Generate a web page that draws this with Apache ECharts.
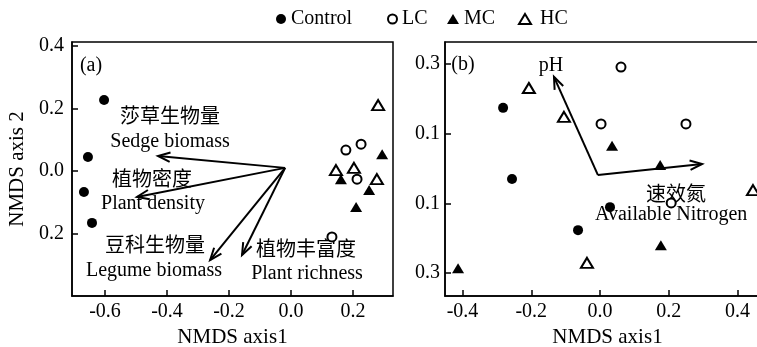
<!DOCTYPE html>
<html><head><meta charset="utf-8">
<script src="https://cdn.jsdelivr.net/npm/echarts@6/dist/echarts.min.js"></script>
<style>html,body{margin:0;padding:0;background:#fff}#c{width:757px;height:347px}</style>
</head><body><div id="c"></div>
<script>
// ---------- data ----------
const groups = ['Control', 'LC', 'MC', 'HC'];

// panel (a)
const aControl = [[-0.603, 0.227], [-0.655, 0.045], [-0.668, -0.067], [-0.642, -0.166]];
const aLC = [[0.177, 0.067], [0.226, 0.086], [0.213, -0.026], [0.132, -0.211]];
const aMC = [[0.294, 0.054], [0.161, -0.026], [0.252, -0.061], [0.210, -0.115]];
const aHC = [[0.281, 0.211], [0.145, 0.003], [0.203, 0.010], [0.277, -0.026]];
const aVectors = [[-0.019, 0.010, -0.429, 0.048], [-0.019, 0.010, -0.497, -0.083],
                  [-0.019, 0.010, -0.261, -0.285], [-0.019, 0.010, -0.158, -0.269]];
const aVectorZh = ['莎草生物量', '植物密度', '豆科生物量', '植物丰富度'];
const aVectorEn = ['Sedge biomass', 'Plant density', 'Legume biomass', 'Plant richness'];
const aXTicks = [-0.6, -0.4, -0.2, 0.0, 0.2];
const aXTickLabels = ['-0.6', '-0.4', '-0.2', '0.0', '0.2'];
const aYTicks = [0.4, 0.2, 0.0, -0.2];
const aYTickLabels = ['0.4', '0.2', '0.0', '0.2'];

// panel (b)
const bControl = [[-0.282, 0.174], [-0.256, -0.030], [0.029, -0.111], [-0.064, -0.177]];
const bLC = [[0.061, 0.291], [0.003, 0.128], [0.250, 0.128], [0.207, -0.099]];
const bMC = [[0.035, 0.065], [0.175, 0.010], [0.177, -0.220], [-0.413, -0.286]];
const bHC = [[-0.207, 0.231], [-0.105, 0.148], [-0.038, -0.271], [0.445, -0.062]];
const bVectors = [[-0.006, -0.019, -0.134, 0.263], [-0.006, -0.019, 0.297, 0.013]];
const bVectorZh = ['', '速效氮'];
const bVectorEn = ['pH', 'Available Nitrogen'];
const bXTicks = [-0.4, -0.2, 0.0, 0.2, 0.4];
const bXTickLabels = ['-0.4', '-0.2', '0.0', '0.2', '0.4'];
const bYTicks = [0.3, 0.1, -0.1, -0.3];
const bYTickLabels = ['0.3', '0.1', '0.1', '0.3'];

// ---------- styling ----------
const SERIF = "'Liberation Serif','Times New Roman',serif";
const CJK = "'Noto Sans CJK SC','Liberation Serif',serif";
const symbols = ['circle', 'emptyCircle', 'triangle', 'emptyTriangle'];
const symSizes = [10, 9, [12, 10], [12, 10]];

function lbl(ticks, labels) {
  return function (v) {
    for (let i = 0; i < ticks.length; i++) if (Math.abs(ticks[i] - v) < 1e-6) return labels[i];
    return '';
  };
}
function xAxisDef(idx, min, max, ticks, labels) {
  return {
    type: 'value', gridIndex: idx, min: min, max: max,
    name: 'NMDS axis1', nameLocation: 'middle', nameGap: 29,
    nameTextStyle: { fontFamily: SERIF, fontSize: 21, color: '#000' },
    axisLine: { show: true, onZero: false, lineStyle: { color: '#000', width: 1.5 } },
    axisTick: { show: true, inside: true, length: 6, customValues: ticks, lineStyle: { color: '#000', width: 1.5 } },
    axisLabel: { show: true, margin: 6, customValues: ticks, formatter: lbl(ticks, labels),
                 fontFamily: SERIF, fontSize: 20, color: '#000' },
    splitLine: { show: false }
  };
}
function yAxisDef(idx, min, max, ticks, labels, name) {
  return {
    type: 'value', gridIndex: idx, min: min, max: max,
    name: name, nameLocation: 'middle', nameGap: 44,
    nameTextStyle: { fontFamily: SERIF, fontSize: 21, color: '#000' },
    axisLine: { show: true, onZero: false, lineStyle: { color: '#000', width: 1.5 } },
    axisTick: { show: true, inside: true, length: 6, customValues: ticks, lineStyle: { color: '#000', width: 1.5 } },
    axisLabel: { show: true, margin: idx === 0 ? 8 : 5, customValues: ticks, formatter: lbl(ticks, labels),
                 fontFamily: SERIF, fontSize: 20, color: '#000' },
    splitLine: { show: false }
  };
}
function arrowRender(params, api) {
  const p0 = api.coord([api.value(0), api.value(1)]);
  const p1 = api.coord([api.value(2), api.value(3)]);
  const ang = Math.atan2(p1[1] - p0[1], p1[0] - p0[0]);
  const L = 13, A = Math.PI / 8.5;
  const h1 = [p1[0] - L * Math.cos(ang - A), p1[1] - L * Math.sin(ang - A)];
  const h2 = [p1[0] - L * Math.cos(ang + A), p1[1] - L * Math.sin(ang + A)];
  return {
    type: 'group', children: [
      { type: 'line', shape: { x1: p0[0], y1: p0[1], x2: p1[0], y2: p1[1] }, style: { stroke: '#000', lineWidth: 2 } },
      { type: 'polyline', shape: { points: [h1, p1, h2] }, style: { stroke: '#000', lineWidth: 2, fill: null } }
    ]
  };
}
function scatterSeries(gi, sets) {
  return sets.map((d, i) => ({
    type: 'scatter', name: groups[i], xAxisIndex: gi, yAxisIndex: gi,
    data: d, symbol: symbols[i], symbolSize: symSizes[i],
    itemStyle: { color: '#000', borderColor: '#000', borderWidth: (i % 2 === 1) ? 1.5 : 0, opacity: 1 },
    emphasis: { disabled: true }
  }));
}
function txt(text, x, y, font, align) {
  return { type: 'text', x: x, y: y, silent: true,
    style: { text: text, fill: '#000', font: font, align: align || 'center', verticalAlign: 'middle' } };
}

const fEn = "20px " + SERIF;
const fZh = "20px " + CJK;
const legendLeft = [276, 387, 447, 518];
const legendW = [10, 9, 12, 12];

const option = {
  animation: false,
  backgroundColor: '#fff',
  legend: groups.map((g, i) => ({
    data: [g], left: legendLeft[i], top: 9, itemWidth: legendW[i], itemHeight: 10, itemGap: 0,
    selectedMode: false, padding: 0,
    textStyle: { fontFamily: SERIF, fontSize: 20, color: '#000', padding: i === 3 ? [0, 0, 0, 4] : 0 }
  })),
  grid: [
    { left: 72, top: 42, width: 321, height: 254, show: true, borderColor: '#000', borderWidth: 1.5,
      containLabel: false, outerBoundsMode: 'none' },
    { left: 445, top: 42, width: 325, height: 254, show: true, borderColor: '#000', borderWidth: 1.5,
      containLabel: false, outerBoundsMode: 'none' }
  ],
  xAxis: [
    xAxisDef(0, -0.7065, 0.329, aXTicks, aXTickLabels),
    xAxisDef(1, -0.451, 0.4945, bXTicks, bXTickLabels)
  ],
  yAxis: [
    yAxisDef(0, -0.40, 0.4128, aYTicks, aYTickLabels, 'NMDS axis 2'),
    yAxisDef(1, -0.366, 0.363, bYTicks, bYTickLabels, '')
  ],
  series: [].concat(
    scatterSeries(0, [aControl, aLC, aMC, aHC]),
    scatterSeries(1, [bControl, bLC, bMC, bHC]),
    [
      { type: 'custom', xAxisIndex: 0, yAxisIndex: 0, data: aVectors, encode: { x: [0, 2], y: [1, 3] }, renderItem: arrowRender, silent: true },
      { type: 'custom', xAxisIndex: 1, yAxisIndex: 1, data: bVectors, encode: { x: [0, 2], y: [1, 3] }, renderItem: arrowRender, silent: true }
    ]
  ),
  graphic: [
    txt('(a)', 91, 66, fEn),
    txt(aVectorZh[0], 170, 115, fZh), txt(aVectorEn[0], 170, 142, fEn),
    txt(aVectorZh[1], 152, 178, fZh), txt(aVectorEn[1], 153, 204, fEn),
    txt(aVectorZh[2], 155, 244, fZh), txt(aVectorEn[2], 154, 271, fEn),
    txt(aVectorZh[3], 306, 248, fZh), txt(aVectorEn[3], 307, 274, fEn),
    txt('(b)', 463, 65, fEn),
    txt(bVectorEn[0], 551, 66, fEn),
    txt(bVectorZh[1], 676, 193, fZh),
    txt(bVectorEn[1], 595, 215, fEn, 'left')
  ]
};
const chart = echarts.init(document.getElementById('c'), null, { renderer: 'canvas' });
chart.setOption(option);
</script>
</body></html>
